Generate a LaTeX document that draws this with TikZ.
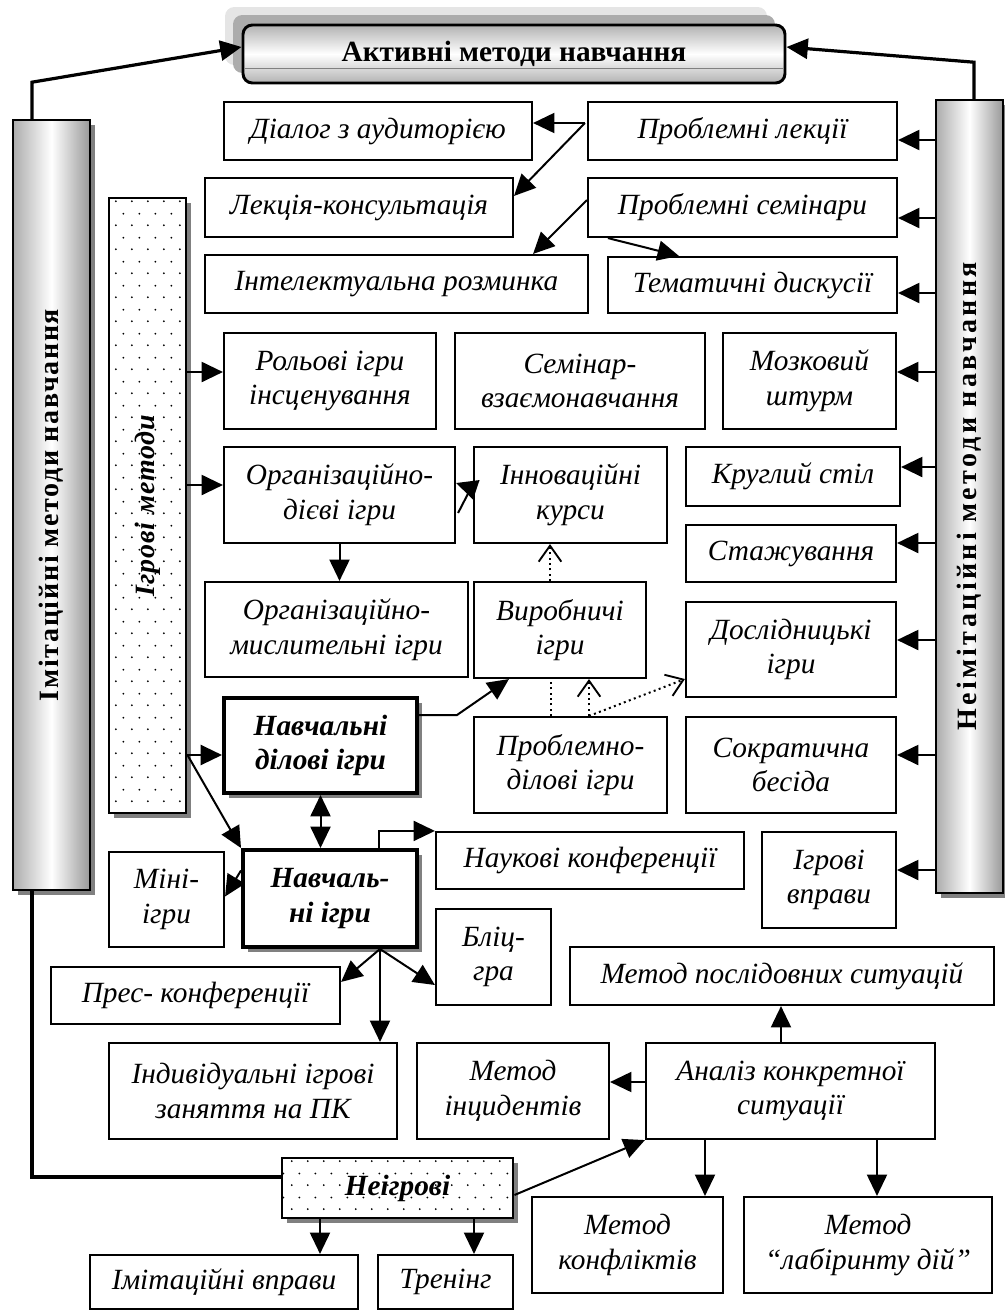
\documentclass[tikz,border=0pt]{standalone}
\usepackage{fontspec}
\setmainfont{Liberation Serif}
\usepackage{tikz}
\usetikzlibrary{arrows.meta,calc,shadows,patterns}
\pgfdeclarepatternformonly{sparsedots}{\pgfpointorigin}{\pgfqpoint{12pt}{18pt}}{\pgfqpoint{12pt}{18pt}}{%
  \pgfpathcircle{\pgfqpoint{3pt}{4.5pt}}{0.8pt}%
  \pgfpathcircle{\pgfqpoint{9pt}{13.5pt}}{0.8pt}%
  \pgfusepath{fill}}
\newcommand{\boxfont}{\fontsize{22}{26}\selectfont\itshape}
\newcommand{\barfont}{\fontsize{21}{25}\selectfont\bfseries}
\tikzset{
  meth/.style={draw, line width=1.6pt, fill=white, align=center, inner sep=1pt, font=\boxfont},
  keymeth/.style={meth, line width=3pt, font=\boxfont\bfseries,
               drop shadow={shadow xshift=4pt, shadow yshift=-4pt, fill=black!50, opacity=1}},
  dotbox/.style={draw, line width=2.2pt, align=center, inner sep=1pt, font=\boxfont\bfseries,
               drop shadow={shadow xshift=4pt, shadow yshift=-4pt, fill=black!50, opacity=1},
               preaction={fill=white}, pattern=sparsedots},
  cyl/.style={draw, line width=1.2pt, left color=gray!65, right color=gray!80, middle color=white,
               drop shadow={shadow xshift=4pt, shadow yshift=-4pt, fill=black!50, opacity=1}},
  titlebox/.style={draw, line width=2.2pt, rounded corners=7pt, top color=gray!60, bottom color=gray!60,
               middle color=white, inner sep=1pt, font=\fontsize{22}{26}\selectfont\bfseries,
               drop shadow={shadow xshift=-13.5pt, shadow yshift=13.5pt, fill=gray!20, opacity=1},
               drop shadow={shadow xshift=-7.5pt, shadow yshift=7.5pt, fill=gray!65, opacity=1}},
  barlabel/.style={rotate=90, inner sep=0pt, font=\barfont\addfontfeatures{LetterSpace=#1}},
  igrlabel/.style={rotate=90, inner sep=0pt, font=\barfont\itshape\addfontfeatures{LetterSpace=3}},
  arr/.style={-{Triangle[length=16pt,width=15pt]}, line width=1.5pt},
  feed/.style={arr, line width=1.7pt},
  topfeed/.style={arr, line width=2.4pt},
  darr/.style={{Triangle[length=16pt,width=15pt]}-{Triangle[length=16pt,width=15pt]}, line width=1.5pt},
  link/.style={line width=2.6pt},
  dotline/.style={line width=1.5pt, dash pattern=on 1.5pt off 2.5pt},
  dotarr/.style={dotline, -{Straight Barb[length=12pt,width=17pt,line width=1.4pt]}},
}
\newcommand{\mnode}[7][meth]{%
  \node[#1, minimum width={(#5-#3)*0.75pt}, minimum height={(#6-#4)*0.75pt}]
    (#2) at ({(#3+#5)/2},{(#4+#6)/2}) {#7};}
\begin{document}
\begin{tikzpicture}[x=0.75pt,y=-0.75pt]
  \useasboundingbox (0,0) rectangle (1005,1311);
  \mnode[titlebox]{title}{243}{25}{785}{83}{Активні методи навчання}
  \draw[gray, line width=0.6pt] ($(title.west)+(3,14)$) -- ($(title.east)+(-3,14)$);
  \mnode[cyl]{imit}{13}{120}{90}{890}{}
  \node[barlabel=6] (imitlab) at (imit) {Імітаційні методи навчання};
  \mnode[cyl]{neimit}{936}{100}{1003}{893}{}
  \node[barlabel=12] (neimitlab) at (neimit) {Неімітаційні методи навчання};
  \mnode[dotbox]{igr}{109}{198}{186}{813}{}
  \node[igrlabel] (igrlab) at (igr) {Ігрові методи};
  \mnode{dial}{224}{102}{532}{160}{Діалог з аудиторією}
  \mnode{plek}{588}{102}{897}{160}{Проблемні лекції}
  \mnode{lekc}{205}{178}{513}{237}{Лекція-консультація}
  \mnode{psem}{588}{178}{897}{237}{Проблемні семінари}
  \mnode{intel}{205}{255}{588}{313}{Інтелектуальна розминка}
  \mnode{temat}{608}{257}{897}{313}{Тематичні дискусії}
  \mnode{rol}{224}{333}{436}{429}{Рольові ігри\\інсценування}
  \mnode{semvz}{455}{333}{705}{429}{Семінар-\\взаємонавчання}
  \mnode{mozk}{723}{333}{896}{429}{Мозковий\\штурм}
  \mnode{orgd}{224}{447}{455}{543}{Організаційно-\\дієві ігри}
  \mnode{innov}{474}{447}{667}{543}{Інноваційні\\курси}
  \mnode{krug}{686}{447}{900}{506}{Круглий стіл}
  \mnode{staj}{686}{525}{896}{582}{Стажування}
  \mnode{orgm}{205}{582}{468}{677}{Організаційно-\\мислительні ігри}
  \mnode{vyrob}{474}{582}{646}{678}{Виробничі\\ігри}
  \mnode{dosl}{686}{602}{896}{697}{Дослідницькі\\ігри}
  \mnode[keymeth]{ndil}{224}{698}{417}{793}{Навчальні\\ділові ігри}
  \mnode{pdil}{474}{717}{667}{813}{Проблемно-\\ділові ігри}
  \mnode{sokr}{686}{717}{896}{813}{Сократична\\бесіда}
  \mnode{mini}{109}{852}{224}{947}{Міні-\\ігри}
  \mnode[keymeth]{nig}{243}{850}{417}{947}{Навчаль-\\ні ігри}
  \mnode{nauk}{436}{832}{744}{889}{Наукові конференції}
  \mnode{igvpr}{762}{832}{896}{928}{Ігрові\\вправи}
  \mnode{blic}{436}{909}{551}{1005}{Бліц-\\гра}
  \mnode{pres}{51}{967}{340}{1024}{Прес- конференції}
  \mnode{mposl}{570}{947}{994}{1005}{Метод послідовних ситуацій}
  \mnode{indiv}{109}{1043}{397}{1139}{Індивідуальні ігрові\\заняття на ПК}
  \mnode{minc}{417}{1043}{609}{1139}{Метод\\інцидентів}
  \mnode{anal}{646}{1043}{935}{1139}{Аналіз конкретної\\ситуації}
  \mnode[dotbox]{neigr}{282}{1158}{513}{1218}{Неігрові}
  \mnode{imvpr}{90}{1255}{358}{1309}{Імітаційні вправи}
  \mnode{tren}{378}{1255}{513}{1309}{Тренінг}
  \mnode{mkonf}{532}{1197}{723}{1293}{Метод\\конфліктів}
  \mnode{mlab}{744}{1197}{992}{1293}{Метод\\“лабіринту дій”}
  \draw[topfeed] ($(imit.north)+(-19.5,0)$) -- ++(0,-37) -- ($(title.west)+(0,-7)$);
  \draw[topfeed] ($(neimit.north)+(4.5,0)$) -- ++(0,-37) -- ($(title.east)+(0,-7)$);
  \draw[link] ($(imit.south)+(-19.5,0)$) |- ($(neigr.west)+(0,-11)$);
  \foreach \b/\y in {plek/140,psem/218,temat/293,mozk/372,krug/467,staj/543,dosl/640,sokr/755,igvpr/870}
    \draw[feed] (neimit.west |- 0,\y) -- (\b.east |- 0,\y);
  \foreach \b/\y in {rol/372,orgd/485,ndil/755}
    \draw[feed] (igr.east |- 0,\y) -- (\b.west |- 0,\y);
  \coordinate (plekout) at ($(plek.west)+(-2,-8)$);
  \draw[arr] (plekout) -- (dial.east |- plekout);
  \draw[arr] (plekout) -- ($(lekc.north east)+(0,19)$);
  \draw[arr] ($(psem.west)+(0,-7.5)$) -- ($(intel.north east)+(-56,0)$);
  \draw[arr] ($(psem.south west)+(21,0)$) -- ($(temat.north west)+(72,0)$);
  \draw[arr] ($(orgd.east)+(2,18)$) -- ($(innov.west)+(-2,-7)$) -- ($(orgd.east)+(0,-12)$);
  \draw[arr] (orgd.south) -- (orgd.south |- orgm.north);
  \draw[dotarr] ($(vyrob.north)+(-10,0)$) coordinate (vup) -- (vup |- innov.south);
  \draw[dotline] ($(pdil.north)+(-19.5,0)$) coordinate (pd1) -- (pd1 |- vyrob.south);
  \draw[dotarr] ($(pdil.north)+(18.5,0)$) coordinate (pd2) -- (pd2 |- vyrob.south);
  \draw[dotarr] (pd2) -- ($(dosl.west)+(0,29.5)$);
  \draw[arr] ($(ndil.north east)+(0,19)$) -- ++(38,0) -- ($(vyrob.south west)+(36,0)$);
  \draw[arr] (igr.east |- 0,755) -- (nig.north west);
  \draw[darr] (ndil.south) -- (ndil.south |- nig.north);
  \draw[arr] ($(nig.north east)+(-40,0)$) |- (nauk.north west);
  \draw[arr] ($(nig.west)+(0,-28)$) -- ($(mini.east)+(0,-3)$);
  \coordinate (nigout) at ($(nig.south east)+(-39,0)$);
  \draw[arr] (nigout) -- ($(pres.north east)+(0,16)$);
  \draw[arr] (nigout) -- ($(blic.west)+(0,28)$);
  \draw[arr] (nigout) -- (nigout |- indiv.north);
  \draw[arr] ($(anal.west)+(0,-9)$) -- ($(minc.east)+(0,-9)$);
  \draw[arr] ($(anal.north)+(-9.5,0)$) coordinate (an1) -- (an1 |- mposl.south);
  \draw[arr] (anal.south -| 705,0) -- (mkonf.north -| 705,0);
  \draw[arr] (anal.south -| 877,0) -- (mlab.north -| 877,0);
  \draw[arr] ($(neigr.east)+(0,7)$) -- (anal.south west);
  \draw[arr] (neigr.south -| 320,0) -- (imvpr.north -| 320,0);
  \draw[arr] (neigr.south -| 474,0) -- (tren.north -| 474,0);
\end{tikzpicture}
\end{document}
